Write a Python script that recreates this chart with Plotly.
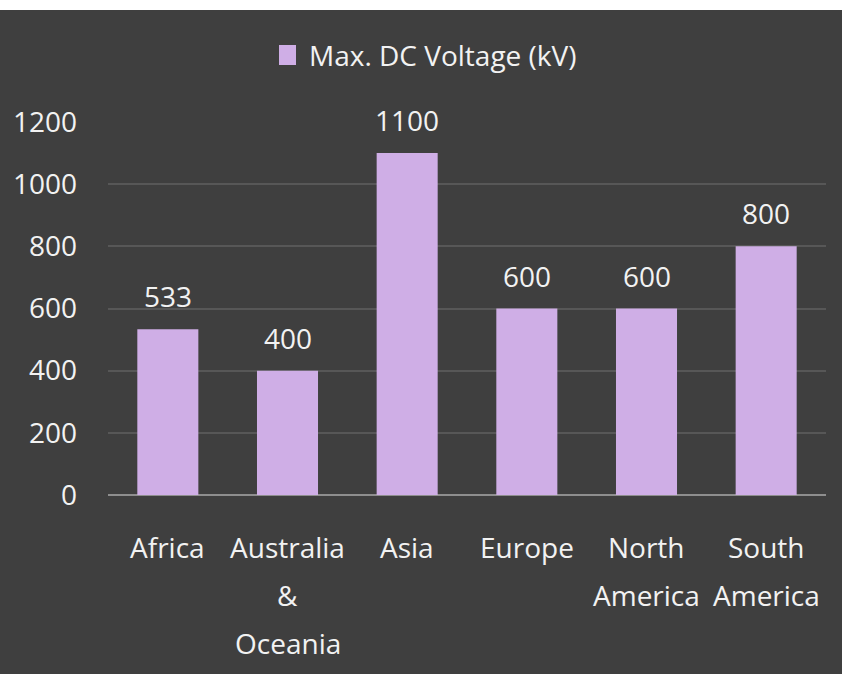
import plotly.graph_objects as go

categories = ["Africa", "Australia & Oceania", "Asia", "Europe", "North America", "South America"]
label_lines = [["Africa"], ["Australia", "&", "Oceania"], ["Asia"], ["Europe"],
               ["North", "America"], ["South", "America"]]
values = [533, 400, 1100, 600, 600, 800]
series_name = "Max. DC Voltage (kV)"
y_ticks = [0, 200, 400, 600, 800, 1000, 1200]

BG = "#3f3f3f"
BAR = "#cfaee6"
TXT = "#f2f2f2"
FONT = "Open Sans"
FS = 28

fig = go.Figure()
fig.add_trace(go.Bar(
    x=categories, y=values, name=series_name,
    marker=dict(color=BAR, line=dict(width=0)),
    showlegend=False, cliponaxis=False,
))

annotations = []
# data labels
for c, v in zip(categories, values):
    annotations.append(dict(x=c, y=v, xref="x", yref="y", text=str(v), showarrow=False,
                            yanchor="bottom", yshift=12, font=dict(family=FONT, size=FS, color=TXT)))
# category labels (multi-line with wide spacing)
for c, lines in zip(categories, label_lines):
    for i, ln in enumerate(lines):
        annotations.append(dict(x=c, y=0, xref="x", yref="paper", text=ln, showarrow=False,
                                yanchor="middle", yshift=-(52 + 48 * i),
                                font=dict(family=FONT, size=FS, color=TXT)))
# legend text
annotations.append(dict(x=(307 - 108) / 718, y=(495 - 55) / 373, xref="paper", yref="paper",
                        text=series_name, showarrow=False, xanchor="left", yanchor="middle",
                        font=dict(family=FONT, size=FS, color=TXT)))

fig.update_layout(
    width=842, height=674,
    margin=dict(l=108, r=16, t=122, b=179),
    paper_bgcolor=BG, plot_bgcolor="rgba(0,0,0,0)",
    font=dict(family=FONT, size=FS, color=TXT),
    bargap=0.49,
    showlegend=False,
    xaxis=dict(showgrid=False, showline=False, zeroline=False, ticks="", showticklabels=False),
    yaxis=dict(range=[0, 1200], tickvals=y_ticks, showgrid=True, gridcolor="#575757", gridwidth=1.5,
               zeroline=True, zerolinecolor="#8e8e8e", zerolinewidth=2, showline=False,
               ticks="", tickfont=dict(family=FONT, size=FS, color=TXT), ticklabelstandoff=30),
    annotations=annotations,
    shapes=[
        dict(type="rect", xref="paper", yref="paper", x0=-0.2, x1=1.1,
             y0=(495 - 10) / 373, y1=1.4, fillcolor="white", line=dict(width=0), layer="above"),
        # legend swatch
        dict(type="rect", xref="paper", yref="paper", x0=(279 - 108) / 718, x1=(296 - 108) / 718,
             y0=(495 - 65) / 373, y1=(495 - 45) / 373, fillcolor=BAR, line=dict(width=0), layer="above"),
    ],
)

fig.write_html("out.html")
